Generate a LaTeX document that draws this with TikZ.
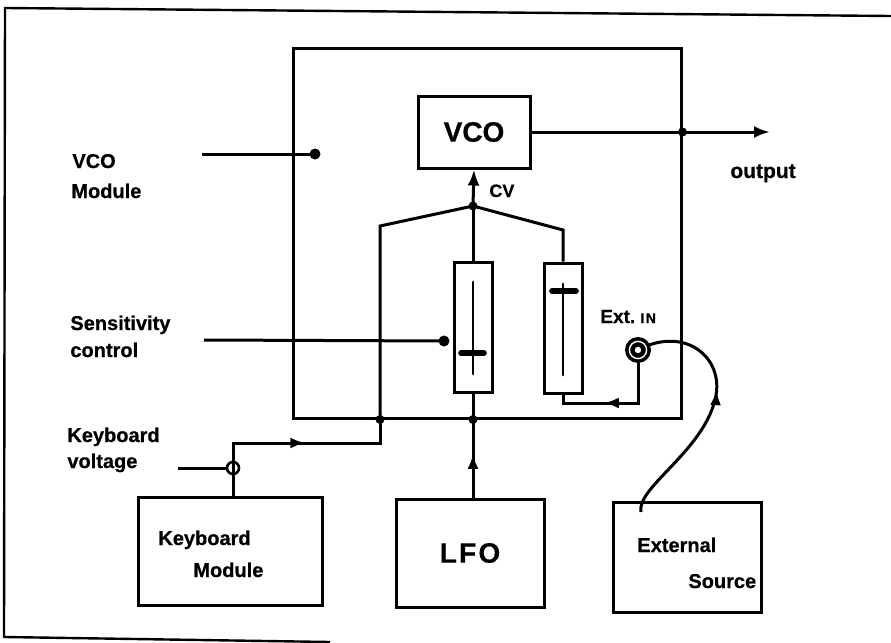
\documentclass[tikz,border=0pt]{standalone}
\usepackage{fontspec}
\setmainfont{Liberation Sans}
\usetikzlibrary{arrows.meta,decorations.markings,positioning}

\tikzset{
  block/.style={draw, line width=1.5pt, inner sep=0pt},
  lbl/.style={font=\bfseries\fontsize{10}{12}\selectfont\addfontfeature{FakeBold=0.6},
    inner sep=0pt, anchor=base west},
  wire/.style={line width=1.5pt},
  jdot/.style={circle, fill, inner sep=0pt, minimum size=4.5pt},
  pdot/.style={circle, fill, inner sep=0pt, minimum size=5.5pt},
  tip/.style={-{Latex[length=8pt,width=6pt]}},
  midarrow/.style={postaction={decorate}, decoration={markings,
    mark=at position #1 with {\arrow{Latex[length=7.5pt,width=5.5pt]}}}},
}

\begin{document}
\begin{tikzpicture}[x=0.5pt,y=-0.5pt]
\useasboundingbox (0,0) rectangle (891,643);
% page frame
\draw[line width=1.2pt] (891,16) -- (5,8) -- (4,637) -- (330,642);

% boxes
\node[block, minimum width=194pt, minimum height=185pt] (module) at (487,233) {};
\node[block, minimum width=56pt, minimum height=36pt,
      font=\bfseries\fontsize{14}{14}\selectfont\addfontfeature{FakeBold=0.6}] (vco) at (474,132) {VCO};
\node[block, minimum width=19pt, minimum height=65pt] (sens) at (473,327) {};
\node[block, minimum width=19pt, minimum height=65pt] (extpot) at (563,328) {};
\node[block, minimum width=92pt, minimum height=54pt] (kbd) at (230,551) {};
\node[block, minimum width=74pt, minimum height=54pt,
      font=\bfseries\fontsize{14}{14}\selectfont\addfontfeature{LetterSpace=8,FakeBold=0.6}] (lfo) at (470,553) {LFO};
\node[block, minimum width=74pt, minimum height=55pt] (ext) at (687,557) {};

% slider marks
\draw[line width=1.4pt, line cap=round] (473,282) -- (473,374);
\draw[line width=2.8pt, line cap=round] (461,353) -- (484,353);
\draw[line width=1.4pt, line cap=round] (563,284) -- (563,375);
\draw[line width=2.8pt, line cap=round] (552,291) -- (576,291);

% junctions
\coordinate (out) at (module.east |- vco.east);
\coordinate (outtip) at (770,132);
\coordinate (cv) at (473,206);
\coordinate (lbr) at (380,226);
\coordinate (rbr) at (extpot.north |- 0,230);
\coordinate (lj) at (lbr |- module.south);
\coordinate (cj) at (sens.south |- module.south);
\coordinate (kup) at (380,443);
\coordinate (kleft) at (233,443);
\node[draw, circle, line width=1.3pt, inner sep=0pt, minimum size=6pt] (kx) at (233,468) {};

% signal lines
\draw[wire, tip] (vco.east) -- (out) -- (outtip);
\draw[wire, tip] (cv) -- (vco.south);
\draw[wire] (lj) -- (lbr) -- (cv) -- (rbr) -- (extpot.north);
\draw[wire] (cv) -- (sens.north);
\draw[wire] (sens.south) -- (cj);
\draw[wire, midarrow=0.56] (cj |- lfo.north) -- (cj);
\draw[wire, midarrow=0.56] (kleft |- kbd.north) -- (kleft) -- (kup) -- (lj);

% ext input jack
\coordinate (jack) at (638,350);
\fill (jack) circle (6.5pt);
\draw[white, line width=0.7pt] (jack) circle (4.3pt);
\fill[white] (jack) circle (1.6pt);
\draw[wire, midarrow=0.6] (jack) ++(0,13) -- (638,403) -- (563,403) -- (extpot.south);
\coordinate (cab) at (641,512);
\draw[wire, midarrow=0.6] (cab) .. controls (636,488) and (702,452) .. (715,400)
  .. controls (725,362) and (692,330) .. (649,345);

\node[jdot] at (out) {};
\node[jdot] at (cv) {};
\node[jdot] at (lj) {};
\node[jdot] at (cj) {};

% pointers
\node[pdot] (vmdot) at (315,154) {};
\coordinate (vmp) at (202,154);
\draw[wire] (vmp) -- (vmdot.center);
\node[pdot] (sdot) at (444,341) {};
\coordinate (sp) at (204,340);
\draw[wire] (sp) -- (sdot.center);
\coordinate (kvp) at (178,468);
\draw[wire] (kvp) -- (kx.west);

% labels
\node[lbl] (vcolbl) at (72,168) {VCO};
\node[lbl] (modlbl) at (71,198) {Module};
\node[lbl] (senslbl) at (70,330) {Sensitivity};
\node[lbl] (ctllbl) at (70,357) {control};
\node[lbl] (kvlbl) at (67,442) {Keyboard};
\node[lbl] (voltlbl) at (67,468) {voltage};
\node[lbl, font=\bfseries\fontsize{10.5}{12}\selectfont\addfontfeature{FakeBold=0.6}] (outlbl) at (730,178) {output};
\node[lbl, font=\bfseries\fontsize{9}{10}\selectfont\addfontfeature{FakeBold=0.6}] (cvlbl) at (489,197) {CV};
\node[lbl, font=\bfseries\fontsize{9.5}{10}\selectfont\addfontfeature{FakeBold=0.6}] (extinlbl) at (600,323)
  {Ext.\ {\fontsize{7}{8}\selectfont\addfontfeature{LetterSpace=10}IN}};
\node[lbl] (kbdlbl) at (158,545) {Keyboard};
\node[lbl] (kmodlbl) at (193,577) {Module};
\node[lbl] (extlbl) at (637,552) {External};
\node[lbl] (srclbl) at (688,588) {Source};
\end{tikzpicture}
\end{document}
